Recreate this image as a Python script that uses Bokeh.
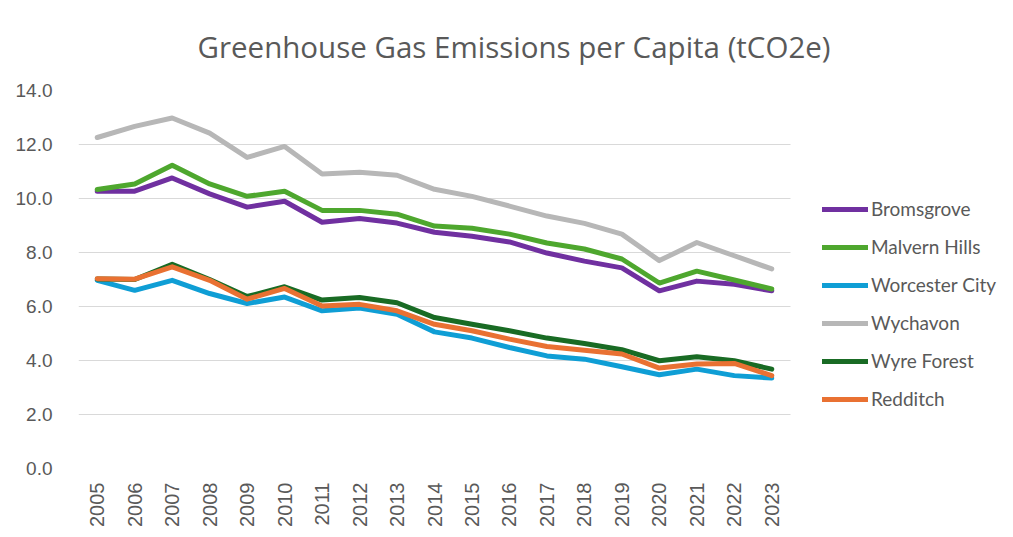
import math
from bokeh.plotting import figure
from bokeh.models import Range1d, FixedTicker, NumeralTickFormatter, Legend, LegendItem, Grid
from bokeh.embed import file_html
from bokeh.resources import INLINE

years = list(range(2005, 2024))

bromsgrove = [10.27, 10.27, 10.76, 10.17, 9.68, 9.90, 9.12, 9.26, 9.09, 8.75, 8.60, 8.39, 7.98, 7.68, 7.43, 6.58, 6.94, 6.82, 6.58]
malvern_hills = [10.33, 10.54, 11.23, 10.54, 10.08, 10.27, 9.56, 9.56, 9.42, 8.98, 8.90, 8.68, 8.35, 8.13, 7.76, 6.87, 7.31, 6.98, 6.65]
worcester_city = [6.97, 6.60, 6.97, 6.48, 6.11, 6.35, 5.84, 5.94, 5.71, 5.06, 4.83, 4.48, 4.17, 4.05, 3.77, 3.47, 3.68, 3.44, 3.35]
wychavon = [12.26, 12.67, 12.98, 12.42, 11.52, 11.93, 10.91, 10.97, 10.86, 10.34, 10.08, 9.72, 9.35, 9.08, 8.68, 7.70, 8.37, 7.88, 7.39]
wyre_forest = [7.02, 7.00, 7.56, 7.00, 6.37, 6.73, 6.24, 6.33, 6.14, 5.59, 5.34, 5.10, 4.83, 4.63, 4.40, 3.99, 4.14, 3.99, 3.68]
redditch = [7.03, 7.01, 7.47, 6.97, 6.27, 6.67, 6.02, 6.08, 5.84, 5.34, 5.10, 4.79, 4.52, 4.38, 4.24, 3.72, 3.87, 3.89, 3.44]

series_names = ["Bromsgrove", "Malvern Hills", "Worcester City", "Wychavon", "Wyre Forest", "Redditch"]
series_values = [bromsgrove, malvern_hills, worcester_city, wychavon, wyre_forest, redditch]
series_colors = ["#7030A0", "#4EA72E", "#0F9ED5", "#B7B7B7", "#196B24", "#E97132"]

y_ticks = [0, 2, 4, 6, 8, 10, 12, 14]

# plotting area: 19 year slots over 712 px, frame continues to the right for the legend
x_start = years[0] - 0.5
x_end_years = years[-1] + 0.5
slot_px = 712 / len(years)
frame_px = 1005 - 78
x_end = x_start + frame_px / slot_px

p = figure(width=1005, height=529, x_range=Range1d(x_start, x_end), y_range=Range1d(0, 14),
           output_backend="svg", toolbar_location=None,
           min_border_left=78, min_border_right=0, min_border_top=89, min_border_bottom=61)
p.outline_line_color = None
p.background_fill_color = "white"
p.border_fill_color = "white"

p.title.text = "Greenhouse Gas Emissions per Capita (tCO2e)"
p.title.align = "left"
p.title.offset = 119
p.title.text_font = "Open Sans"
p.title.text_font_size = "29.5px"
p.title.text_font_style = "normal"
p.title.text_color = "#595959"
p.title.standoff = 47

p.xgrid.grid_line_color = None
if "cross_bounds" in Grid.properties():
    p.ygrid.grid_line_color = "#D9D9D9"
    p.ygrid.grid_line_width = 1
    p.ygrid.cross_bounds = (x_start, x_end_years)
else:
    p.ygrid.grid_line_color = None
    p.segment(x0=[x_start] * len(y_ticks), x1=[x_end_years] * len(y_ticks),
              y0=y_ticks, y1=y_ticks, line_color="#D9D9D9", line_width=1)

p.yaxis.ticker = FixedTicker(ticks=y_ticks)
p.yaxis.formatter = NumeralTickFormatter(format="0.0")
p.yaxis.axis_line_color = None
p.yaxis.major_tick_line_color = None
p.yaxis.minor_tick_line_color = None
p.yaxis.major_label_standoff = 20
p.yaxis.major_label_text_font = "Liberation Sans"
p.yaxis.major_label_text_font_size = "19px"
p.yaxis.major_label_text_color = "#595959"

p.xaxis.ticker = FixedTicker(ticks=years)
p.xaxis.axis_line_color = None
p.xaxis.major_tick_line_color = None
p.xaxis.minor_tick_line_color = None
p.xaxis.major_label_orientation = math.pi / 2
p.xaxis.major_label_standoff = 8
p.xaxis.major_label_text_font = "Liberation Sans"
p.xaxis.major_label_text_font_size = "20px"
p.xaxis.major_label_text_color = "#595959"

items = []
for name, vals, col in zip(series_names, series_values, series_colors):
    r = p.line(x=years, y=vals, line_color=col, line_width=5,
               line_join="round", line_cap="round")
    items.append(LegendItem(label=name, renderers=[r]))

legend = Legend(items=items, location=(744, 58), padding=0, margin=0,
                border_line_color=None, background_fill_alpha=0,
                glyph_width=46, glyph_height=20, label_height=20,
                label_standoff=3, spacing=15,
                label_text_font="Lato", label_text_font_size="19px",
                label_text_color="#595959")
p.add_layout(legend)

open("out.html", "w").write(file_html(p, INLINE))
